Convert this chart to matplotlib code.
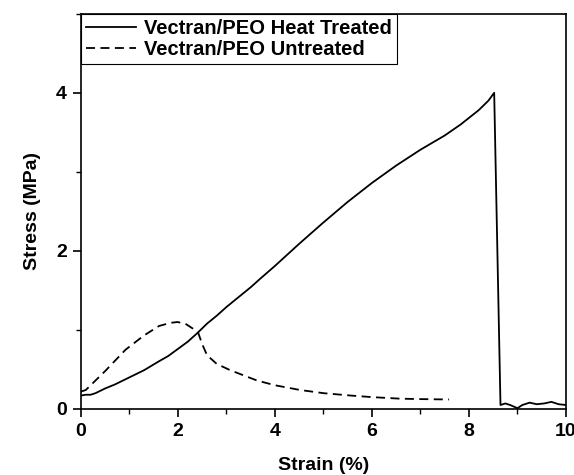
import matplotlib.pyplot as plt
from matplotlib.ticker import MultipleLocator

plt.rcParams['font.family'] = ['Liberation Sans', 'DejaVu Sans']
plt.rcParams['font.weight'] = 'bold'

# heat treated (solid)
strain_ht = [0.0, 0.1, 0.2, 0.3, 0.5, 0.7, 1.0, 1.3, 1.6, 1.8, 2.0, 2.2, 2.4,
             2.6, 2.8, 3.0, 3.5, 3.7, 4.0, 4.5, 5.0, 5.5, 6.0, 6.5, 7.0, 7.5,
             7.83, 8.2, 8.4, 8.52, 8.65, 8.75, 8.85, 9.0, 9.1, 9.25, 9.4, 9.55,
             9.7, 9.85, 10.0]
stress_ht = [0.17, 0.18, 0.18, 0.20, 0.26, 0.31, 0.40, 0.49, 0.60, 0.67, 0.76, 0.85, 0.96,
             1.08, 1.18, 1.29, 1.54, 1.65, 1.81, 2.09, 2.36, 2.62, 2.86, 3.08, 3.28, 3.46,
             3.60, 3.78, 3.90, 4.00, 0.05, 0.07, 0.05, 0.01, 0.05, 0.08, 0.06, 0.07,
             0.09, 0.06, 0.05]

# untreated (dashed)
strain_un = [0.0, 0.1, 0.5, 0.92, 1.3, 1.61, 1.85, 1.99, 2.15, 2.3, 2.42, 2.5, 2.6,
             2.8, 3.08, 3.63, 4.0, 4.52, 5.0, 5.56, 6.0, 6.59, 7.0, 7.59]
stress_un = [0.22, 0.24, 0.48, 0.75, 0.93, 1.05, 1.09, 1.10, 1.08, 1.02, 0.96, 0.82, 0.68,
             0.57, 0.49, 0.36, 0.30, 0.24, 0.20, 0.17, 0.15, 0.13, 0.125, 0.12]

fig = plt.figure(figsize=(5.74, 4.75), dpi=100)
ax = fig.add_axes([0.141, 0.139, 0.845, 0.832])

ax.plot(strain_ht, stress_ht, color='black', lw=1.3, label='Vectran/PEO Heat Treated')
ax.plot(strain_un, stress_un, color='black', lw=1.3, dashes=(5, 3), label='Vectran/PEO Untreated')

ax.set_xlim(0, 10)
ax.set_ylim(0, 5)
ax.xaxis.set_major_locator(MultipleLocator(2))
ax.xaxis.set_minor_locator(MultipleLocator(1))
ax.yaxis.set_major_locator(MultipleLocator(2))
ax.yaxis.set_minor_locator(MultipleLocator(1))
ax.tick_params(which='major', direction='out', length=6, width=1.2, labelsize=14, pad=4)
ax.tick_params(which='minor', direction='out', length=3.6, width=1.0)
for s in ax.spines.values():
    s.set_linewidth(1.2)

ax.set_xlabel('Strain (%)', fontsize=14, fontweight='bold', labelpad=12)
ax.set_ylabel('Stress (MPa)', fontsize=14, fontweight='bold')
ax.yaxis.set_label_coords(-0.083, 0.5)

leg = ax.legend(loc='upper left', borderaxespad=0, fancybox=False, fontsize=14.5,
                handlelength=2.5, handletextpad=0.4, borderpad=0.25, labelspacing=0.1,
                framealpha=1)
leg.get_frame().set_edgecolor('black')
leg.get_frame().set_linewidth(0.8)

fig.savefig('out.png', dpi=100)
